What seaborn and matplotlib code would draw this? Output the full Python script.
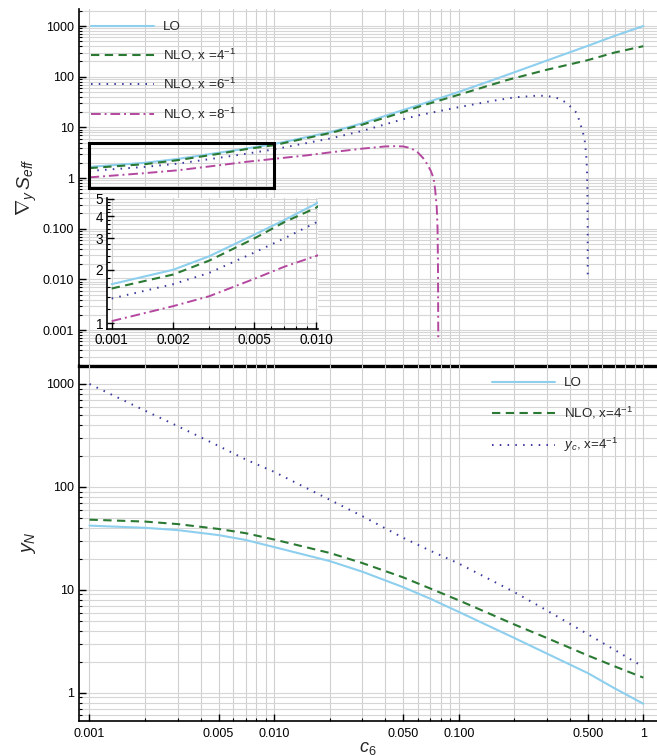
import numpy as np
import pandas as pd
import matplotlib
matplotlib.use("Agg")
import matplotlib.pyplot as plt
from matplotlib.patches import Rectangle
from matplotlib.ticker import FixedLocator, FixedFormatter, NullFormatter
import seaborn as sns

# --- top panel: gradient of S_eff vs c6 ---
c6_lo = [0.001, 0.002, 0.003, 0.005, 0.007, 0.01, 0.02, 0.03, 0.05, 0.0616,
         0.1, 0.153, 0.2, 0.3, 0.5, 0.7, 1.0]
grad_lo = [1.66, 2.0, 2.38, 3.15, 3.8, 4.69, 8.0, 12.0, 22.0, 28.0,
           50.0, 86.0, 122.0, 208.0, 406.0, 640.0, 1000.0]

c6_nlo4 = [0.001, 0.002, 0.003, 0.005, 0.007, 0.01, 0.02, 0.03, 0.05, 0.0616,
           0.1, 0.183, 0.3, 0.5, 0.7, 1.0]
grad_nlo4 = [1.57, 1.88, 2.25, 3.0, 3.7, 4.45, 7.7, 11.3, 20.0, 26.0,
             44.0, 86.0, 137.0, 212.0, 300.0, 400.0]

c6_nlo6 = [0.001, 0.002, 0.003, 0.005, 0.007, 0.01, 0.02, 0.03, 0.05, 0.0616,
           0.1, 0.15, 0.2, 0.26, 0.3, 0.35, 0.386, 0.42, 0.437, 0.466,
           0.48, 0.49, 0.495, 0.498, 0.4995, 0.4999]
grad_nlo6 = [1.38, 1.66, 1.92, 2.5, 3.0, 3.68, 6.0, 8.5, 14.5, 17.5,
             25.0, 33.0, 39.0, 42.0, 42.0, 37.0, 30.0, 22.0, 19.0, 9.0,
             6.0, 3.0, 1.5, 0.5, 0.1, 0.0098]

c6_nlo8 = [0.001, 0.002, 0.003, 0.005, 0.007, 0.01, 0.015, 0.02, 0.03, 0.04,
           0.045, 0.05, 0.055, 0.06, 0.064, 0.067, 0.0705, 0.073, 0.0745,
           0.076, 0.0768, 0.0772, 0.0775]
grad_nlo8 = [1.03, 1.25, 1.42, 1.78, 2.08, 2.39, 2.8, 3.2, 3.8, 4.2,
             4.25, 4.2, 3.9, 3.2, 2.5, 1.96, 1.4, 1.0, 0.6,
             0.27, 0.1, 0.02, 0.0006]

# --- bottom panel: y_N vs c6 ---
c6_bot = [0.001, 0.002, 0.003, 0.005, 0.007, 0.01, 0.02, 0.03, 0.05, 0.07,
          0.1, 0.2, 0.3, 0.5, 0.7, 1.0]
yn_lo = [42.0, 40.0, 38.0, 34.0, 30.5, 26.0, 19.0, 15.0, 10.6, 8.2,
         6.1, 3.4, 2.4, 1.55, 1.1, 0.78]
yn_nlo4 = [48.0, 46.0, 43.5, 39.0, 35.5, 30.8, 22.8, 18.2, 13.2, 10.3,
           7.9, 4.6, 3.4, 2.3, 1.8, 1.4]
yc_nlo4 = [1000.0, 550.0, 390.0, 250.0, 185.0, 140.0, 75.0, 52.0, 32.0, 24.0,
           18.0, 9.5, 6.3, 3.7, 2.6, 1.78]

top_yticks = [0.001, 0.01, 0.1, 1, 10, 100, 1000]
top_ylabels = ["0.001", "0.010", "0.100", "1", "10", "100", "1000"]
bot_yticks = [1, 10, 100, 1000]
bot_ylabels = ["1", "10", "100", "1000"]
xticks = [0.001, 0.005, 0.01, 0.05, 0.1, 0.5, 1]
xlabels = ["0.001", "0.005", "0.010", "0.050", "0.100", "0.500", "1"]
in_xticks = [0.001, 0.002, 0.005, 0.01]
in_xlabels = ["0.001", "0.002", "0.005", "0.010"]
in_yticks = [1, 2, 3, 4, 5]
in_ylabels = ["1", "2", "3", "4", "5"]

C_LO = "#8ecfee"
C_NLO4 = "#2b7a34"
C_NLO6 = "#3c3a9c"
C_NLO8 = "#b4489f"

sns.set_style("white")
plt.rcParams["font.family"] = ["Liberation Sans", "DejaVu Sans"]
plt.rcParams["mathtext.fontset"] = "custom"
plt.rcParams["mathtext.rm"] = "Liberation Sans"
plt.rcParams["mathtext.it"] = "Liberation Sans:italic"
plt.rcParams["font.size"] = 9


def decade_minors(lo_exp, hi_exp):
    vals = []
    for e in range(lo_exp, hi_exp + 1):
        for m in range(1, 10):
            vals.append(m * 10.0 ** e)
    return vals


def style_axis(ax, xgrid, ygrid):
    for v in xgrid:
        ax.axvline(v, color="#cfcfcf", lw=0.8, zorder=0)
    for v in ygrid:
        ax.axhline(v, color="#d6d6d6", lw=0.8, zorder=0)
    ax.tick_params(which="both", direction="in", left=True, bottom=True,
                   top=False, right=False, colors="black", labelsize=9)
    ax.tick_params(which="major", length=5, width=1)
    ax.tick_params(which="minor", length=2.5, width=0.8)
    for s in ["top", "right"]:
        ax.spines[s].set_visible(False)
    for s in ["left", "bottom"]:
        ax.spines[s].set_color("black")
        ax.spines[s].set_linewidth(1.2)


def draw(ax, x, y, color, ls, lw, label):
    df = pd.DataFrame({"c6": x, "val": y})
    sns.lineplot(data=df, x="c6", y="val", ax=ax, color=color, linestyle=ls,
                 lw=lw, label=label, estimator=None, sort=False, zorder=3)


fig = plt.figure(figsize=(6.57, 7.55), dpi=100)
ax_top = fig.add_axes([0.1202, 0.5152, 0.8798, 0.4728])
ax_bot = fig.add_axes([0.1202, 0.045, 0.8798, 0.4715])
ax_bot.set_facecolor("none")
ax_in = fig.add_axes([0.1633, 0.5642, 0.3207, 0.1735])

ls_dash = (0, (4, 2.6))
ls_dot = (0, (0.8, 3.2))
ls_dashdot = (0, (5, 2, 1, 2))

# top panel
draw(ax_top, c6_lo, grad_lo, C_LO, "-", 1.5, "LO")
draw(ax_top, c6_nlo4, grad_nlo4, C_NLO4, ls_dash, 1.5, "NLO, x =4$^{-1}$")
draw(ax_top, c6_nlo6, grad_nlo6, C_NLO6, ls_dot, 1.4, "NLO, x =6$^{-1}$")
draw(ax_top, c6_nlo8, grad_nlo8, C_NLO8, ls_dashdot, 1.4, "NLO, x =8$^{-1}$")
ax_top.set_xscale("log")
ax_top.set_yscale("log")
ax_top.set_xlim(10 ** -3.057, 10 ** 0.074)
ax_top.set_ylim(1.95e-4, 2160)
style_axis(ax_top, decade_minors(-3, 0), decade_minors(-4, 3))
ax_top.yaxis.set_major_locator(FixedLocator(top_yticks))
ax_top.yaxis.set_major_formatter(FixedFormatter(top_ylabels))
ax_top.tick_params(axis="x", which="both", bottom=False, labelbottom=False)
ax_top.spines["bottom"].set_linewidth(2.4)
ax_top.spines["bottom"].set_zorder(6)
ax_top.set_xlabel("")
ax_top.set_ylabel(r"$\nabla_y\, S_{eff}$", fontsize=14, labelpad=3)
ax_top.add_patch(Rectangle((0.001, 0.63), 0.009, 5.0 - 0.63, fill=False,
                           lw=2.2, edgecolor="black", zorder=4))
ax_top.legend(loc="upper left", bbox_to_anchor=(0.0, 1.0), frameon=False,
              handlelength=4.7, handletextpad=0.7, labelspacing=1.0,
              fontsize=9.6)

# inset
ax_in.set_facecolor("white")
draw(ax_in, c6_lo, grad_lo, C_LO, "-", 1.5, None)
draw(ax_in, c6_nlo4, grad_nlo4, C_NLO4, ls_dash, 1.5, None)
draw(ax_in, c6_nlo6, grad_nlo6, C_NLO6, ls_dot, 1.4, None)
draw(ax_in, c6_nlo8, grad_nlo8, C_NLO8, ls_dashdot, 1.4, None)
ax_in.set_xscale("log")
ax_in.set_yscale("log")
ax_in.set_xlim(10 ** -3.0215, 10 ** -1.99)
ax_in.set_ylim(0.93, 5.05)
in_ygrid = [1 + 0.2 * i for i in range(21)]
style_axis(ax_in, decade_minors(-3, -2), in_ygrid)
ax_in.xaxis.set_major_locator(FixedLocator(in_xticks))
ax_in.xaxis.set_major_formatter(FixedFormatter(in_xlabels))
ax_in.xaxis.set_minor_locator(FixedLocator(decade_minors(-3, -3)))
ax_in.xaxis.set_minor_formatter(NullFormatter())
ax_in.yaxis.set_major_locator(FixedLocator(in_yticks))
ax_in.yaxis.set_major_formatter(FixedFormatter(in_ylabels))
ax_in.yaxis.set_minor_locator(FixedLocator(in_ygrid))
ax_in.yaxis.set_minor_formatter(NullFormatter())
ax_in.tick_params(labelsize=9.8, pad=3)
ax_in.set_xlabel("")
ax_in.set_ylabel("")
if ax_in.get_legend() is not None:
    ax_in.get_legend().remove()

# bottom panel
draw(ax_bot, c6_bot, yn_lo, C_LO, "-", 1.5, "LO")
draw(ax_bot, c6_bot, yn_nlo4, C_NLO4, ls_dash, 1.5, "NLO, x=4$^{-1}$")
draw(ax_bot, c6_bot, yc_nlo4, C_NLO6, ls_dot, 1.4, "$y_c$, x=4$^{-1}$")
ax_bot.set_xscale("log")
ax_bot.set_yscale("log")
ax_bot.set_xlim(10 ** -3.057, 10 ** 0.074)
ax_bot.set_ylim(0.53, 1528)
style_axis(ax_bot, decade_minors(-3, 0), decade_minors(-1, 3))
ax_bot.xaxis.set_major_locator(FixedLocator(xticks))
ax_bot.xaxis.set_major_formatter(FixedFormatter(xlabels))
ax_bot.xaxis.set_minor_locator(FixedLocator(decade_minors(-3, -1)))
ax_bot.xaxis.set_minor_formatter(NullFormatter())
ax_bot.yaxis.set_major_locator(FixedLocator(bot_yticks))
ax_bot.yaxis.set_major_formatter(FixedFormatter(bot_ylabels))
ax_bot.tick_params(axis="x", pad=5)
ax_bot.set_xlabel("$c_6$", fontsize=13)
ax_bot.xaxis.set_label_coords(0.5, -0.052)
ax_bot.set_ylabel("$y_N$", fontsize=14, labelpad=6)
ax_bot.legend(loc="upper right", bbox_to_anchor=(0.98, 1.0), frameon=False,
              handlelength=4.7, handletextpad=0.7, labelspacing=1.15,
              fontsize=9.6)

fig.savefig("out.png", dpi=100)
